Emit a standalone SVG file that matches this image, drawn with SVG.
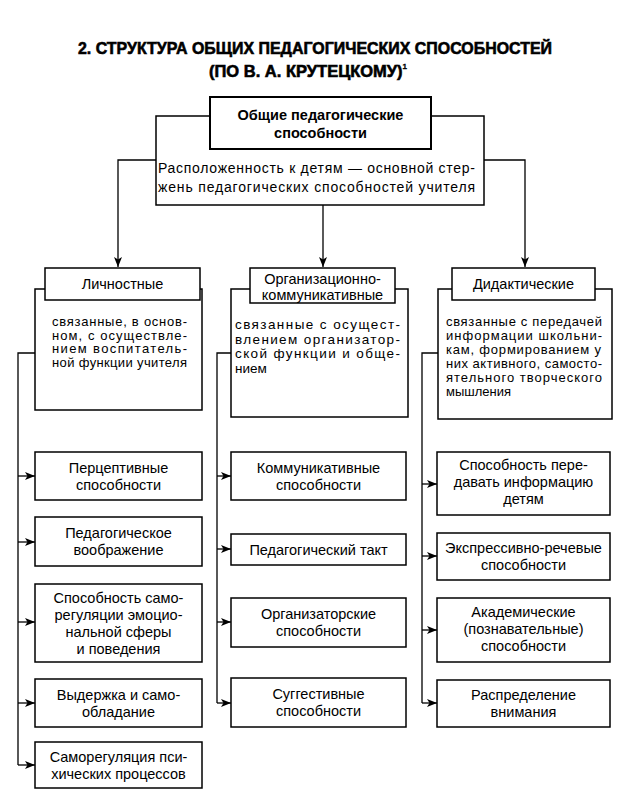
<svg xmlns="http://www.w3.org/2000/svg" width="625" height="800" viewBox="0 0 625 800">
<style>
.bx{fill:#fff;stroke:#000;stroke-width:1.5}
.bx2{fill:#fff;stroke:#000;stroke-width:2}
.ln{fill:none;stroke:#000;stroke-width:1.3}
.t{font-family:"Liberation Sans",Arial,sans-serif;font-size:14.5px;fill:#000;text-anchor:middle}
.d{font-family:"Liberation Sans",Arial,sans-serif;font-size:13.5px;fill:#000}
.b{font-family:"Liberation Sans",Arial,sans-serif;font-size:14.5px;font-weight:bold;fill:#000;text-anchor:middle}
.h{font-family:"Liberation Sans",Arial,sans-serif;font-size:16.5px;font-weight:bold;fill:#000;stroke:#000;stroke-width:0.6}
</style>
<defs>
<marker id="ar" viewBox="0 0 10 8" refX="10" refY="4" markerWidth="10" markerHeight="8" markerUnits="userSpaceOnUse" orient="auto">
<path d="M0,0 L10,4 L0,8 L2.5,4 Z" fill="#000"/>
</marker>
</defs>
<rect width="625" height="800" fill="#fff"/>
<g id="title">
<text class="h" x="78" y="54" textLength="474" lengthAdjust="spacingAndGlyphs">2. СТРУКТУРА ОБЩИХ ПЕДАГОГИЧЕСКИХ СПОСОБНОСТЕЙ</text>
<text class="h" x="209" y="77">(ПО В. А. КРУТЕЦКОМУ)<tspan dy="-8" style="font-size:8px;stroke-width:0.3">1</tspan></text>
</g>
<g id="connectors">
<path class="ln" d="M156,160 H118 V267" marker-end="url(#ar)"/>
<path class="ln" d="M323,205 V267" marker-end="url(#ar)"/>
<path class="ln" d="M484,160 H525 V267" marker-end="url(#ar)"/>
<path class="ln" d="M35,353 H18 V765"/>
<path class="ln" d="M18,476 H35" marker-end="url(#ar)"/>
<path class="ln" d="M18,542 H35" marker-end="url(#ar)"/>
<path class="ln" d="M18,622 H35" marker-end="url(#ar)"/>
<path class="ln" d="M18,703 H35" marker-end="url(#ar)"/>
<path class="ln" d="M18,765 H35" marker-end="url(#ar)"/>
<path class="ln" d="M231,353 H217 V703"/>
<path class="ln" d="M217,476 H231" marker-end="url(#ar)"/>
<path class="ln" d="M217,549 H231" marker-end="url(#ar)"/>
<path class="ln" d="M217,622 H231" marker-end="url(#ar)"/>
<path class="ln" d="M217,703 H231" marker-end="url(#ar)"/>
<path class="ln" d="M438,353 H422 V703"/>
<path class="ln" d="M422,484 H437" marker-end="url(#ar)"/>
<path class="ln" d="M422,556 H437" marker-end="url(#ar)"/>
<path class="ln" d="M422,630 H437" marker-end="url(#ar)"/>
<path class="ln" d="M422,703 H437" marker-end="url(#ar)"/>
</g>
<g id="root-desc">
<rect class="bx" x="156" y="116" width="328" height="89"/>
<text class="d" x="158" y="173" textLength="317" lengthAdjust="spacing" style="font-size:14px">Расположенность к детям — основной стер-</text>
<text class="d" x="158" y="192" textLength="317" lengthAdjust="spacing" style="font-size:14px">жень педагогических способностей учителя</text>
</g>
<g id="root">
<rect class="bx2" x="210" y="97" width="221" height="52"/>
<text class="b" x="320.5" y="120">Общие педагогические</text>
<text class="b" x="320.5" y="138">способности</text>
</g>
<g id="lich-desc">
<rect class="bx" x="35" y="289" width="167" height="121"/>
<text class="d" x="52" y="326" textLength="135" lengthAdjust="spacing" style="font-size:13px">связанные, в основ-</text>
<text class="d" x="52" y="339.5" textLength="135" lengthAdjust="spacing" style="font-size:13px">ном, с осуществле-</text>
<text class="d" x="52" y="353" textLength="135" lengthAdjust="spacing" style="font-size:13px">нием воспитатель-</text>
<text class="d" x="52" y="366.5" textLength="135" lengthAdjust="spacing" style="font-size:13px">ной функции учителя</text>
</g>
<g id="lich">
<rect class="bx" x="45" y="268" width="155" height="32"/>
<text class="t" x="122.5" y="289">Личностные</text>
</g>
<g id="org-desc">
<rect class="bx" x="231" y="289" width="177" height="128"/>
<text class="d" x="235" y="329" textLength="165" lengthAdjust="spacing">связанные с осущест-</text>
<text class="d" x="235" y="343.5" textLength="165" lengthAdjust="spacing">влением организатор-</text>
<text class="d" x="235" y="358" textLength="165" lengthAdjust="spacing">ской функции и обще-</text>
<text class="d" x="235" y="372.5">нием</text>
</g>
<g id="org">
<rect class="bx" x="250" y="268" width="145" height="35"/>
<text class="t" x="322.5" y="284">Организационно-</text>
<text class="t" x="322.5" y="300">коммуникативные</text>
</g>
<g id="did-desc">
<rect class="bx" x="438" y="289" width="174" height="130"/>
<text class="d" x="446" y="326" textLength="156" lengthAdjust="spacing" style="font-size:13px">связанные с передачей</text>
<text class="d" x="446" y="340" textLength="156" lengthAdjust="spacing" style="font-size:13px">информации школьни-</text>
<text class="d" x="446" y="354" textLength="155" lengthAdjust="spacing" style="font-size:13px">кам, формированием у</text>
<text class="d" x="446" y="368" textLength="156" lengthAdjust="spacing" style="font-size:13px">них активного, самосто-</text>
<text class="d" x="446" y="382" textLength="156" lengthAdjust="spacing" style="font-size:13px">ятельного творческого</text>
<text class="d" x="446" y="396" style="font-size:13px">мышления</text>
</g>
<g id="did">
<rect class="bx" x="452" y="268" width="143" height="32"/>
<text class="t" x="523.5" y="289">Дидактические</text>
</g>
<g id="l1"><rect class="bx" x="35" y="452" width="167" height="48"/>
<text class="t" x="118.5" y="472.5">Перцептивные</text><text class="t" x="118.5" y="489.5">способности</text></g>
<g id="l2"><rect class="bx" x="35" y="517" width="167" height="49"/>
<text class="t" x="118.5" y="538">Педагогическое</text><text class="t" x="118.5" y="555">воображение</text></g>
<g id="l3"><rect class="bx" x="35" y="584" width="167" height="78"/>
<text class="t" x="118.5" y="603">Способность само-</text><text class="t" x="118.5" y="620">регуляции эмоцио-</text><text class="t" x="118.5" y="637">нальной сферы</text><text class="t" x="118.5" y="654">и поведения</text></g>
<g id="l4"><rect class="bx" x="35" y="679" width="167" height="48"/>
<text class="t" x="118.5" y="699.5">Выдержка и само-</text><text class="t" x="118.5" y="716.5">обладание</text></g>
<g id="l5"><rect class="bx" x="35" y="742" width="167" height="46"/>
<text class="t" x="118.5" y="761.5">Саморегуляция пси-</text><text class="t" x="118.5" y="778.5">хических процессов</text></g>
<g id="m1"><rect class="bx" x="231" y="452" width="175" height="48"/>
<text class="t" x="318.5" y="472.5">Коммуникативные</text><text class="t" x="318.5" y="489.5">способности</text></g>
<g id="m2"><rect class="bx" x="231" y="534" width="175" height="31"/>
<text class="t" x="318.5" y="554.5">Педагогический такт</text></g>
<g id="m3"><rect class="bx" x="231" y="598" width="175" height="49"/>
<text class="t" x="318.5" y="618.5">Организаторские</text><text class="t" x="318.5" y="635.5">способности</text></g>
<g id="m4"><rect class="bx" x="231" y="678" width="175" height="49"/>
<text class="t" x="318.5" y="698.5">Суггестивные</text><text class="t" x="318.5" y="715.5">способности</text></g>
<g id="r1"><rect class="bx" x="437" y="452" width="173" height="63"/>
<text class="t" x="523.5" y="470">Способность пере-</text><text class="t" x="523.5" y="487">давать информацию</text><text class="t" x="523.5" y="504">детям</text></g>
<g id="r2"><rect class="bx" x="437" y="533" width="173" height="47"/>
<text class="t" x="523.5" y="553">Экспрессивно-речевые</text><text class="t" x="523.5" y="570">способности</text></g>
<g id="r3"><rect class="bx" x="437" y="598" width="173" height="64"/>
<text class="t" x="523.5" y="616.5">Академические</text><text class="t" x="523.5" y="633.5">(познавательные)</text><text class="t" x="523.5" y="650.5">способности</text></g>
<g id="r4"><rect class="bx" x="437" y="680" width="173" height="47"/>
<text class="t" x="523.5" y="700">Распределение</text><text class="t" x="523.5" y="717">внимания</text></g>
</svg>
